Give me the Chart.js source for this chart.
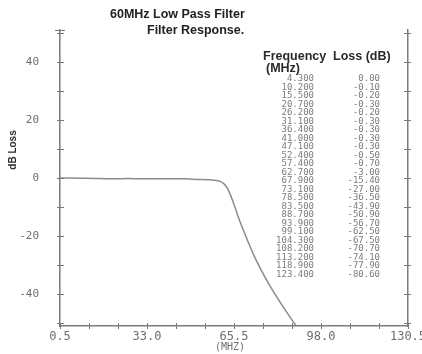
<!DOCTYPE html>
<html>
<head>
<meta charset="utf-8">
<script src="https://cdn.jsdelivr.net/npm/chart.js@4"></script>
<style>
  html, body { margin: 0; padding: 0; background: #fff; }
  #wrap { width: 422px; height: 354px; position: relative; }
</style>
</head>
<body>
<div id="wrap"><canvas id="filterChart" width="422" height="354"></canvas></div>
<script>
// table values printed on the plot (MHz / dB)
const freqMHz = [4.3, 10.2, 15.5, 20.7, 26.2, 31.1, 36.4, 41.0, 47.1, 52.4, 57.4, 62.7,
                 67.9, 73.1, 78.5, 83.5, 88.7, 93.9, 99.1, 104.3, 108.2, 113.2, 118.9, 123.4];
const lossDb = [0.00, -0.10, -0.20, -0.30, -0.20, -0.30, -0.30, -0.30, -0.30, -0.50, -0.70, -3.00,
                -15.40, -27.00, -36.50, -43.90, -50.90, -56.70, -62.50, -67.50, -70.70, -74.10, -77.90, -80.60];
// the trace starts at the left edge of the axis
const startFreq = 0.5;
const startLoss = 0;

const xTickLabels = [0.5, 33.0, 65.5, 98.0, 130.5];
const xMinorPerMajor = 3;
const yTickValues = [-50, -40, -30, -20, -10, 0, 10, 20, 30, 40, 50];
const yLabelled = [-40, -20, 0, 20, 40];

const titleLines = ['60MHz Low Pass Filter', 'Filter Response.'];

const inkGray = '#7a7a7a';
const textGray = '#6e6e6e';

const points = [{x: startFreq, y: startLoss}].concat(freqMHz.map((f, i) => ({x: f, y: lossDb[i]})));

// build x ticks: majors from the label list, minors between them
function xTicks() {
    const out = [];
    for (let i = 0; i < xTickLabels.length - 1; i++) {
        const a = xTickLabels[i], b = xTickLabels[i + 1];
        for (let k = 0; k < xMinorPerMajor; k++) out.push(a + (b - a) * k / xMinorPerMajor);
    }
    out.push(xTickLabels[xTickLabels.length - 1]);
    return out;
}

// crosses on the axes, titles, the printed table
const decorPlugin = {
    id: 'decor',
    afterDraw(chart) {
        const ctx = chart.ctx;
        const area = chart.chartArea;
        const xs = chart.scales.x, ys = chart.scales.y;
        ctx.save();
        ctx.strokeStyle = inkGray;
        ctx.lineWidth = 1;
        ctx.beginPath();
        // left + right axis crosses
        yTickValues.forEach(v => {
            const py = Math.round(ys.getPixelForValue(v)) + 0.5;
            ctx.moveTo(area.left - 3, py); ctx.lineTo(area.left + 4, py);
            ctx.moveTo(area.right - 4, py); ctx.lineTo(area.right + 3, py);
        });
        // cap at the top of the left axis
        ctx.moveTo(area.left - 5, area.top + 0.5); ctx.lineTo(area.left + 5, area.top + 0.5);
        // bottom axis crosses
        xTicks().forEach(v => {
            const px = Math.round(xs.getPixelForValue(v)) + 0.5;
            ctx.moveTo(px, area.bottom - 3); ctx.lineTo(px, area.bottom + 3);
        });
        ctx.stroke();

        // titles
        ctx.fillStyle = '#222';
        ctx.font = 'bold 12.5px "Liberation Sans", Arial, sans-serif';
        ctx.textBaseline = 'middle';
        ctx.textAlign = 'left';
        ctx.fillText(titleLines[0], 110, 15);
        ctx.fillText(titleLines[1], 147, 31);

        // table header
        ctx.fillStyle = '#2a2a2a';
        ctx.fillText('Frequency', 263, 57);
        ctx.fillText('Loss (dB)', 333, 57);
        ctx.fillText('(MHz)', 266, 69);

        // y title
        ctx.save();
        ctx.font = 'bold 10px "Liberation Sans", Arial, sans-serif';
        ctx.translate(13, 150);
        ctx.rotate(-Math.PI / 2);
        ctx.textAlign = 'center';
        ctx.fillText('dB Loss', 0, 0);
        ctx.restore();

        // table rows
        ctx.fillStyle = '#7c7c7c';
        ctx.font = '9px "DejaVu Sans Mono", monospace';
        ctx.textAlign = 'right';
        freqMHz.forEach((f, i) => {
            const py = 79 + i * 8.5;
            ctx.fillText(f.toFixed(3), 314, py);
            ctx.fillText(lossDb[i].toFixed(2), 380, py);
        });

        // x title
        ctx.fillStyle = textGray;
        ctx.font = '10px "DejaVu Sans Mono", monospace';
        ctx.textAlign = 'center';
        ctx.fillText('(MHZ)', 230, 347);
        ctx.restore();
    }
};

new Chart(document.getElementById('filterChart'), {
    type: 'line',
    data: {
        datasets: [{
            data: points,
            borderColor: '#8c8c8c',
            borderWidth: 1.5,
            pointRadius: 0,
            fill: false,
            cubicInterpolationMode: 'monotone'
        }]
    },
    options: {
        responsive: false,
        animation: false,
        layout: { padding: { top: 30, left: 0, right: 0, bottom: 0 } },
        plugins: { legend: { display: false }, tooltip: { enabled: false } },
        scales: {
            x: {
                type: 'linear',
                min: 0.5,
                max: 130.5,
                grid: { display: false, drawTicks: false },
                border: { display: true, color: inkGray, width: 1.5 },
                afterBuildTicks: s => { s.ticks = xTicks().map(v => ({value: v})); },
                afterFit: s => { s.height = 28; s.paddingLeft = 0; s.paddingRight = 0; },
                ticks: {
                    autoSkip: false,
                    maxRotation: 0,
                    padding: 4,
                    color: textGray,
                    font: { family: '"DejaVu Sans Mono", monospace', size: 12 },
                    callback: (v, i) => (i % xMinorPerMajor === 0 ? Number(v).toFixed(1) : '')
                }
            },
            y: {
                min: -51,
                max: 51,
                grid: { display: false, drawTicks: false },
                border: { display: true, color: inkGray, width: 1.5 },
                afterBuildTicks: s => { s.ticks = yTickValues.map(v => ({value: v})); },
                afterFit: s => { s.width = 60; },
                ticks: {
                    padding: 21,
                    color: textGray,
                    font: { family: '"DejaVu Sans Mono", monospace', size: 11 },
                    callback: v => (yLabelled.includes(v) ? String(v) : '')
                }
            },
            y2: {
                position: 'right',
                min: -51,
                max: 51,
                grid: { display: false, drawTicks: false },
                border: { display: true, color: inkGray, width: 1.5 },
                afterFit: s => { s.width = 14; },
                ticks: { display: false }
            }
        }
    },
    plugins: [decorPlugin]
});
</script>
</body>
</html>
